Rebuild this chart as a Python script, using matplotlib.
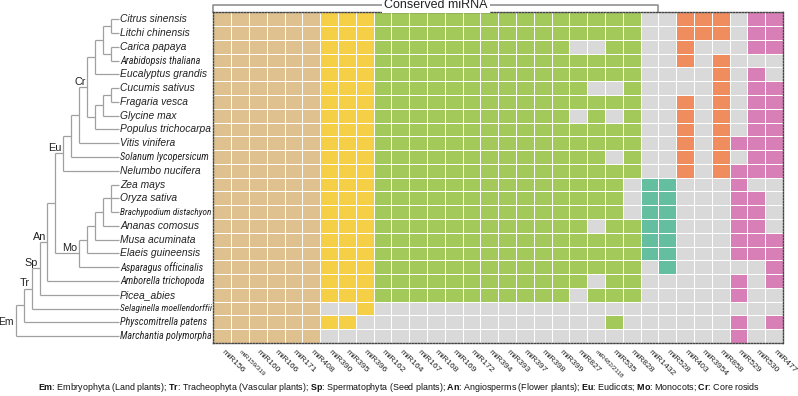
# Heatmap de presencia de familias de miRNA por especie, con el árbol filogenético a la izquierda
import numpy as np
import matplotlib.pyplot as plt
from matplotlib import font_manager
from matplotlib.colors import ListedColormap

plt.rcParams['font.family'] = 'Liberation Sans'
plt.rcParams['mathtext.fontset'] = 'custom'
plt.rcParams['mathtext.rm'] = 'Liberation Sans'
plt.rcParams['mathtext.bf'] = 'Liberation Sans:bold'

# 1. Datos
species = ['Citrus sinensis', 'Litchi chinensis', 'Carica papaya', 'Arabidopsis thaliana',
           'Eucalyptus grandis', 'Cucumis sativus', 'Fragaria vesca', 'Glycine max',
           'Populus trichocarpa', 'Vitis vinifera', 'Solanum lycopersicum', 'Nelumbo nucifera',
           'Zea mays', 'Oryza sativa', 'Brachypodium distachyon', 'Ananas comosus',
           'Musa acuminata', 'Elaeis guineensis', 'Asparagus officinalis', 'Amborella trichopoda',
           'Picea_abies', 'Selaginella moellendorffii', 'Physcomitrella patens', 'Marchantia polymorpha']

mirnas = ['miR156', 'miR159/319', 'miR160', 'miR166', 'miR171', 'miR408',
          'miR390', 'miR395', 'miR396',
          'miR162', 'miR164', 'miR167', 'miR168', 'miR169', 'miR172', 'miR394', 'miR393',
          'miR397', 'miR398', 'miR399', 'miR827', 'miR482/2118', 'miR535', 'miR828',
          'miR1432', 'miR528', 'miR403', 'miR3954', 'miR858', 'miR529', 'miR530', 'miR477']

# grupo (color) de cada columna
col_group = 'AAAAAABBBCCCCCCCCCCCCCCCDDEEEFFF'

# 1 = presente, 0 = ausente (bloques separados por espacios solo para leerlo mejor)
presence = [
    '111111 111 111111111111111 00 111 0 11',  # Citrus
    '111111 111 111111111111111 00 111 0 11',  # Litchi
    '111111 111 111111111110011 00 100 0 11',  # Carica
    '111111 111 111111111111111 00 101 0 00',  # Arabidopsis
    '111111 111 111111111111111 00 001 0 10',  # Eucalyptus
    '111111 111 111111111111001 00 001 0 11',  # Cucumis
    '111111 111 111111111111111 00 101 0 11',  # Fragaria
    '111111 111 111111111110101 00 101 0 11',  # Glycine
    '111111 111 111111111111111 00 101 0 11',  # Populus
    '111111 111 111111111111111 00 101 1 11',  # Vitis
    '111111 111 111111111111101 00 101 0 11',  # Solanum
    '111111 111 111111111111111 00 101 1 11',  # Nelumbo
    '111111 111 111111111111110 11 000 1 00',  # Zea
    '111111 111 111111111111110 11 000 1 10',  # Oryza
    '111111 111 111111111111110 11 000 1 10',  # Brachypodium
    '111111 111 111111111111011 11 000 1 10',  # Ananas
    '111111 111 111111111111111 11 000 1 11',  # Musa
    '111111 111 111111111111111 11 000 1 11',  # Elaeis
    '111111 111 111111111111111 01 000 0 01',  # Asparagus
    '111111 111 111111111111011 00 000 1 01',  # Amborella
    '111111 111 111111111110111 00 000 1 00',  # Picea
    '111111 001 000000000000000 00 000 0 00',  # Selaginella
    '111111 110 000000000000010 00 000 1 01',  # Physcomitrella
    '111111 000 000000000000000 00 000 1 00',  # Marchantia
]

clade_names = {'Em': 'Embryophyta (Land plants)', 'Tr': 'Tracheophyta (Vascular plants)',
               'Sp': 'Spermatophyta (Seed plants)', 'An': 'Angiosperms (Flower plants)',
               'Eu': 'Eudicots', 'Mo': 'Monocots', 'Cr': 'Core rosids'}


def clade(label, *kids):
    return (label, list(kids))


tree = clade('Em',
    clade('',
        clade('Tr',
            clade('Sp',
                clade('An',
                    clade('',
                        clade('Eu',
                            clade('',
                                clade('',
                                    clade('Cr',
                                        clade('',
                                            clade('',
                                                clade('', 'Citrus sinensis', 'Litchi chinensis'),
                                                clade('', 'Carica papaya', 'Arabidopsis thaliana')),
                                            'Eucalyptus grandis'),
                                        clade('',
                                            clade('',
                                                clade('', 'Cucumis sativus', 'Fragaria vesca'),
                                                'Glycine max'),
                                            'Populus trichocarpa')),
                                    'Vitis vinifera'),
                                'Solanum lycopersicum'),
                            'Nelumbo nucifera'),
                        clade('Mo',
                            clade('',
                                clade('',
                                    clade('',
                                        clade('', 'Zea mays', 'Oryza sativa', 'Brachypodium distachyon'),
                                        'Ananas comosus'),
                                    'Musa acuminata'),
                                'Elaeis guineensis'),
                            'Asparagus officinalis')),
                    'Amborella trichopoda'),
                'Picea_abies'),
            'Selaginella moellendorffii'),
        'Physcomitrella patens'),
    'Marchantia polymorpha')

# 2. Matriz de colores
groups = sorted(set(col_group))
matrix = np.array([[int(ch) for ch in row.replace(' ', '')] for row in presence])
codes = matrix * np.array([groups.index(g) + 1 for g in col_group])

colors = ['#D9D9D9', '#DFC18F', '#F5CF45', '#A3C95B', '#63BFA0', '#F08D5E', '#D97FB7']
cmap = ListedColormap(colors)

# 3. Figura
W, H = 798, 396
fig = plt.figure(figsize=(W / 100, H / 100), dpi=100)
x0, x1, y0, y1 = 213.3, 783, 12.3, 343
ax = fig.add_axes([x0 / W, 1 - y1 / H, (x1 - x0) / W, (y1 - y0) / H])
ax.pcolormesh(codes, cmap=cmap, vmin=-0.5, vmax=len(colors) - 0.5,
              edgecolors='white', linewidth=0.55)
ax.set_xlim(0, len(mirnas))
ax.set_ylim(len(species), 0)
ax.set_yticks([])
ax.set_xticks(np.arange(len(mirnas)) + 0.5)
ax.set_xticklabels(mirnas, rotation=-45, ha='left', va='center', rotation_mode='anchor',
                   fontsize=6.1, color='#222222')
for lab in ax.get_xticklabels():
    if '/' in lab.get_text():
        lab.set_fontsize(4.6)
ax.tick_params(axis='x', length=0, pad=6)
for sp in ax.spines.values():
    sp.set_linestyle((0, (1, 1.2)))
    sp.set_color('#444444')
    sp.set_linewidth(1.0)

# corchete "Conserved miRNA"
n_cons = col_group.count('A') + col_group.count('B') + col_group.count('C') + 1
ax.plot([0, 0, n_cons, n_cons], [0, -0.52, -0.52, 0], color='#888888', lw=1.1,
        clip_on=False)
ax.text(n_cons / 2, -0.52, 'Conserved miRNA', ha='center', va='center', fontsize=9,
        color='#222222', bbox=dict(facecolor='white', edgecolor='none', pad=1.5))

# 4. Árbol
axt = fig.add_axes([0, 1 - y1 / H, x0 / W, (y1 - y0) / H])
axt.set_xlim(0, x0)
axt.set_ylim(len(species), 0)
axt.axis('off')

TIP_X = 118.5
STEP = 7.9
line_kw = dict(color='#A0A0A0', lw=0.9, solid_capstyle='butt')


def draw(node, root=False):
    if isinstance(node, str):
        return TIP_X, species.index(node) + 0.5, 0
    label, kids = node
    pts = [draw(k) for k in kids]
    h = max(p[2] for p in pts) + 1
    x = TIP_X - STEP * h
    ys = [p[1] for p in pts]
    y = (min(ys) + max(ys)) / 2
    axt.plot([x, x], [min(ys), max(ys)], **line_kw)
    for px, py, _ in pts:
        axt.plot([x, px], [py, py], **line_kw)
    if label:
        if root:
            axt.text(x - 1.8, y + 0.1, label, ha='right', va='center', fontsize=7.4,
                     color='#222222', clip_on=False)
        else:
            axt.text(x - 1.5, y - 0.05, label, ha='right', va='bottom', fontsize=7.8,
                     color='#222222')
    return x, y, h


draw(tree, root=True)

# fuente estrecha (cursiva) para los nombres largos, si hay alguna instalada
narrow = None
for pref in ['Liberation Sans Narrow', 'Roboto Condensed', 'Open Sans', 'Noto Sans', 'DejaVu Sans']:
    for f in font_manager.fontManager.ttflist:
        if (f.name.startswith(pref) and 'condensed' in str(f.stretch)
                and f.style in ('italic', 'oblique') and f.weight in (400, 'normal', 'regular', 'book')):
            narrow = f.fname
            break
    if narrow:
        break

renderer = fig.canvas.get_renderer()
MAX_W = 91
for i, name in enumerate(species):
    t = axt.text(TIP_X + 1.5, i + 0.5, name, ha='left', va='center', fontsize=7.4,
                 style='italic', color='#222222', clip_on=False)
    w = t.get_window_extent(renderer).width
    if w > MAX_W:
        if narrow:
            t.set_fontproperties(font_manager.FontProperties(fname=narrow, size=7.4))
            w = t.get_window_extent(renderer).width
        if w > MAX_W:
            t.set_fontsize(7.4 * MAX_W / w)

# 5. Leyenda de clados
legend = '; '.join(r'$\mathbf{%s}$: %s' % (k, v) for k, v in clade_names.items())
fig.text(0.5, 1 - 387 / H, legend, ha='center', va='center', fontsize=6.4, color='#111111')

fig.savefig('out.png', dpi=100)
